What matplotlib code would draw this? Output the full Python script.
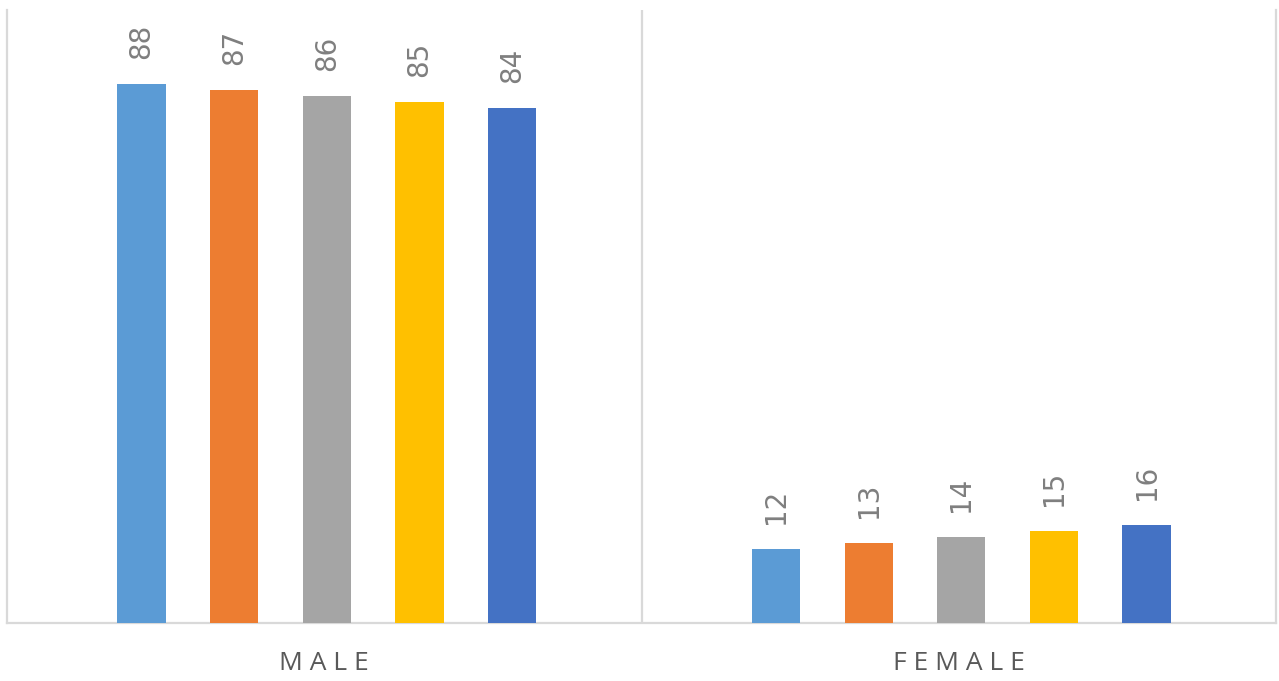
import numpy as np
from matplotlib import pyplot as plt

categories = ['MALE', 'FEMALE']
series_colors = ['#5B9BD5', '#ED7D31', '#A5A5A5', '#FFC000', '#4472C4']
s1 = [88, 12]
s2 = [87, 13]
s3 = [86, 14]
s4 = [85, 15]
s5 = [84, 16]
series = [s1, s2, s3, s4, s5]

fig = plt.figure(figsize=(12.79, 6.81), dpi=100)
ax = fig.add_axes([7 / 1279, 58 / 681, 1269 / 1279, 613 / 681])

x = np.arange(len(categories))
bar_w = 0.076
step = 0.146
for i, vals in enumerate(series):
    pos = x + 0.004 + (i - 2) * step
    bars = ax.bar(pos, vals, width=bar_w, color=series_colors[i], zorder=3)
    for b, v in zip(bars, vals):
        ax.annotate(str(v), (b.get_x() + b.get_width() / 2, v),
                    xytext=(0, 18), textcoords='offset points',
                    rotation=90, ha='center', va='bottom',
                    fontsize=20, color='#7F7F7F',
                    family=['Liberation Sans Narrow', 'DejaVu Sans'])

ax.set_xlim(-0.5, 1.5)
ax.set_ylim(0, 100)
ax.axvline(0.5, color='#D9D9D9', lw=1.6, zorder=1)

ax.spines['top'].set_visible(False)
for side in ['left', 'right', 'bottom']:
    ax.spines[side].set_color('#D9D9D9')
    ax.spines[side].set_linewidth(1.6)

ax.set_yticks([])
ax.set_xticks(x)
ax.set_xticklabels([' '.join(c) for c in categories], fontsize=19,
                   color='#595959', family=['Open Sans', 'DejaVu Sans'])
ax.tick_params(axis='x', length=0, pad=20)

plt.savefig('out.png', dpi=100)
